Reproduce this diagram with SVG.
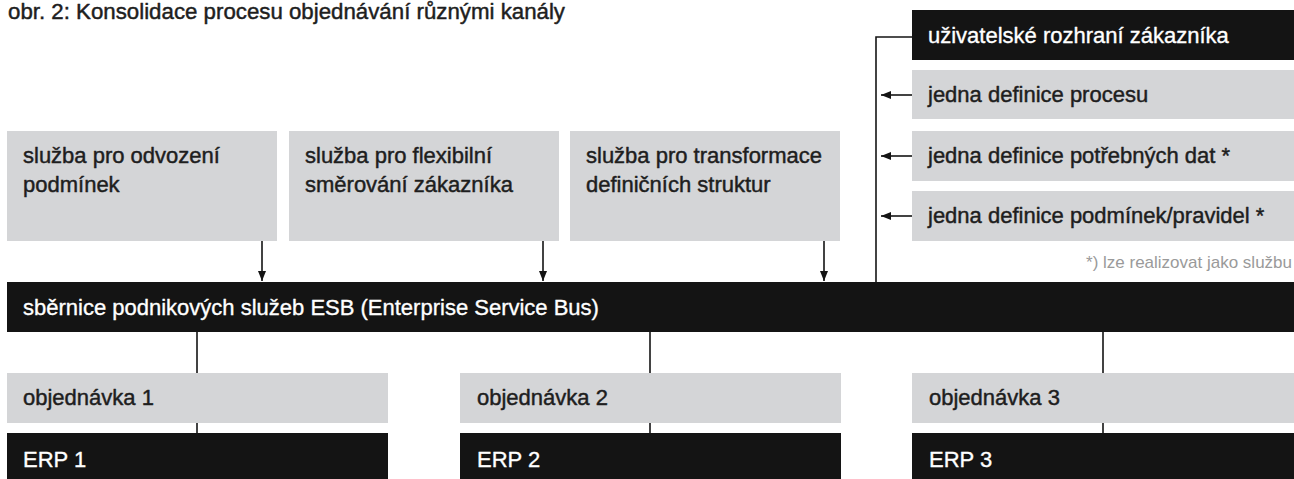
<svg xmlns="http://www.w3.org/2000/svg" width="1294" height="479" viewBox="0 0 1294 479">
  <style>
    text { font-family: "Liberation Sans", Arial, sans-serif; font-size: 22px; stroke-width: 0.45px; stroke-linejoin: round; }
    .gray { fill: #d4d5d7; }
    .black { fill: #141414; }
    .dark { fill: #1e1e1e; }
    text.dark { stroke: #1e1e1e; }
    .light { fill: #ffffff; }
    text.light { stroke: #ffffff; stroke-width: 0.35px; }
    .note { fill: #9a9a9a; font-size: 17px; stroke: none; }
    .conn { stroke: #141414; stroke-width: 1.6; fill: none; }
  </style>
  <defs>
    <marker id="arrow" markerUnits="userSpaceOnUse" markerWidth="10" markerHeight="8" refX="10" refY="4" orient="auto">
      <path d="M0,0 L10,4 L0,8 Z" fill="#141414"/>
    </marker>
  </defs>
  <rect width="1294" height="479" fill="#ffffff"/>

  <text id="title" class="dark" x="8" y="19" textLength="557" lengthAdjust="spacingAndGlyphs">obr. 2: Konsolidace procesu objednávání různými kanály</text>

  <g id="connectors">
    <line class="conn" x1="262" y1="241" x2="262" y2="281" marker-end="url(#arrow)"/>
    <line class="conn" x1="543" y1="241" x2="543" y2="281" marker-end="url(#arrow)"/>
    <line class="conn" x1="824" y1="241" x2="824" y2="281" marker-end="url(#arrow)"/>
    <polyline class="conn" points="912,37 876,37 876,282"/>
    <line class="conn" x1="912" y1="95" x2="881" y2="95" marker-end="url(#arrow)"/>
    <line class="conn" x1="912" y1="156" x2="881" y2="156" marker-end="url(#arrow)"/>
    <line class="conn" x1="912" y1="216" x2="881" y2="216" marker-end="url(#arrow)"/>
    <line class="conn" x1="197" y1="332" x2="197" y2="433"/>
    <line class="conn" x1="650" y1="332" x2="650" y2="433"/>
    <line class="conn" x1="1103" y1="332" x2="1103" y2="433"/>
  </g>

  <g id="service1">
    <rect class="gray" x="7" y="131" width="270" height="110"/>
    <text class="dark" x="23" y="163">služba pro odvození</text>
    <text class="dark" x="23" y="192">podmínek</text>
  </g>
  <g id="service2">
    <rect class="gray" x="289" y="131" width="270" height="110"/>
    <text class="dark" x="305" y="163">služba pro flexibilní</text>
    <text class="dark" x="305" y="192">směrování zákazníka</text>
  </g>
  <g id="service3">
    <rect class="gray" x="570" y="131" width="270" height="110"/>
    <text class="dark" x="586" y="163">služba pro transformace</text>
    <text class="dark" x="586" y="192">definičních struktur</text>
  </g>

  <g id="ui">
    <rect class="black" x="912" y="10" width="382" height="50"/>
    <text class="light" x="928" y="43">uživatelské rozhraní zákazníka</text>
  </g>
  <g id="def-process">
    <rect class="gray" x="912" y="70" width="382" height="49"/>
    <text class="dark" x="928" y="102">jedna definice procesu</text>
  </g>
  <g id="def-data">
    <rect class="gray" x="912" y="131" width="382" height="50"/>
    <text class="dark" x="928" y="163">jedna definice potřebných dat *</text>
  </g>
  <g id="def-rules">
    <rect class="gray" x="912" y="191" width="382" height="50"/>
    <text class="dark" x="928" y="223">jedna definice podmínek/pravidel *</text>
  </g>
  <text id="footnote" class="note" x="1292" y="268" text-anchor="end">*) lze realizovat jako službu</text>

  <g id="esb">
    <rect class="black" x="7" y="282" width="1287" height="50"/>
    <text class="light" x="23" y="315">sběrnice podnikových služeb ESB (Enterprise Service Bus)</text>
  </g>

  <g id="order1">
    <rect class="gray" x="7" y="373" width="381" height="50"/>
    <text class="dark" x="23" y="405">objednávka 1</text>
  </g>
  <g id="order2">
    <rect class="gray" x="460" y="373" width="381" height="50"/>
    <text class="dark" x="477" y="405">objednávka 2</text>
  </g>
  <g id="order3">
    <rect class="gray" x="912" y="373" width="382" height="50"/>
    <text class="dark" x="929" y="405">objednávka 3</text>
  </g>

  <g id="erp1">
    <rect class="black" x="7" y="433" width="381" height="47"/>
    <text class="light" x="23" y="467">ERP 1</text>
  </g>
  <g id="erp2">
    <rect class="black" x="460" y="433" width="381" height="47"/>
    <text class="light" x="477" y="467">ERP 2</text>
  </g>
  <g id="erp3">
    <rect class="black" x="912" y="433" width="382" height="47"/>
    <text class="light" x="929" y="467">ERP 3</text>
  </g>
</svg>
